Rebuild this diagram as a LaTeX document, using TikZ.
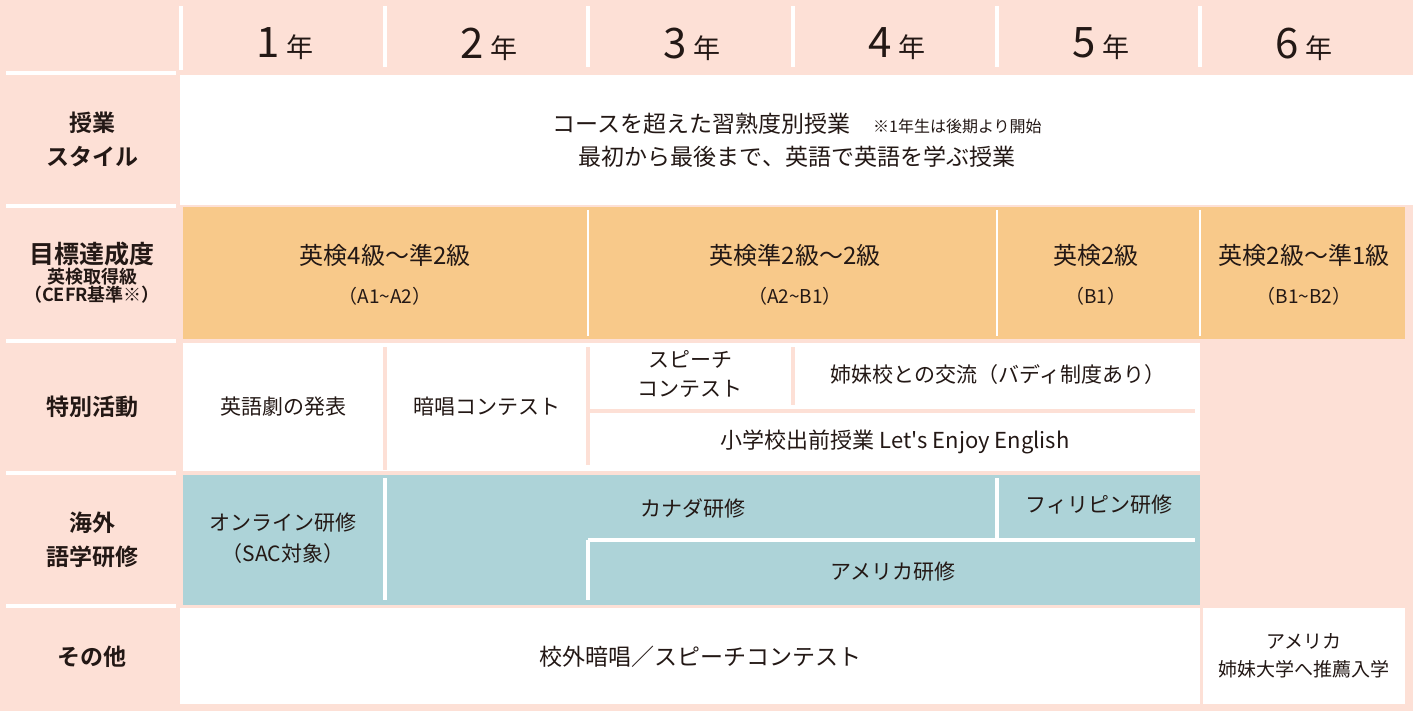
\documentclass[tikz,border=0pt]{standalone}
\usepackage{fontspec}
\setmainfont{Noto Sans CJK JP}
\newfontfamily\jpb{Noto Sans CJK JP Bold}
\definecolor{pk}{HTML}{FDE0D6}
\definecolor{org}{HTML}{F8C98A}
\definecolor{tl}{HTML}{ADD3D8}
\definecolor{ink}{HTML}{231815}
\newcommand{\tld}{\textasciitilde}
\begin{document}
\begin{tikzpicture}[x=1pt,y=-1pt,
  txt/.style={text=ink,font=\fontsize{22}{28}\selectfont,align=center,inner sep=0pt},
  lab/.style={text=ink,font=\jpb\fontsize{23}{34}\selectfont,align=center,inner sep=0pt},
  yr/.style={text=ink,inner sep=0pt},
  wl/.style={white,line width=4pt},
  pl/.style={pk,line width=4pt}]
\fill[pk] (0,0) rectangle (1413,711);
% row backgrounds
\fill[white] (180,75) rectangle (1413,205);
\fill[org] (183,207) rectangle (1405,339);
\fill[white] (183,343) rectangle (1200,471);
\fill[tl] (183,475) rectangle (1200,605);
\fill[white] (180,608) rectangle (1200,704);
\fill[white] (1203,608) rectangle (1405,704);
% left column separators
\foreach \y in {73,206,341,473,606} \draw[wl] (6,\y) -- (176,\y);
\draw[wl] (181,6) -- (181,70);
\foreach \x in {385,588,793,997,1200} \draw[wl] (\x,6) -- (\x,67);
% orange separators
\foreach \x in {588,997,1200} \draw[white,line width=2pt] (\x,210) -- (\x,336);
% activity separators
\draw[pl] (385,347) -- (385,470);
\draw[pl] (588,347) -- (588,465);
\draw[pl] (793,347) -- (793,405);
\draw[pl] (588,411) -- (1195,411);
% teal separators
\draw[wl] (385,478) -- (385,600);
\draw[wl] (997,478) -- (997,538);
\draw[wl] (588,540) -- (1195,540);
\draw[wl] (588,540) -- (588,600);
% headers
\foreach \i/\x in {1/285,2/489,3/692,4/897,5/1101,6/1304}
  \node[yr] (y\i) at (\x,44) {\fontsize{42}{42}\selectfont\i\,\fontsize{27}{27}\selectfont 年};
% labels
\node[lab] (l1) at (92,139) {授業\\スタイル};
\node[lab,font=\jpb] (l2) at (92,273) {\fontsize{25}{25}\selectfont 目標達成度\\[1pt]\fontsize{18}{25}\selectfont 英検取得級\\\fontsize{18}{25}\selectfont（CEFR基準※）};
\node[lab] (l3) at (92,407) {特別活動};
\node[lab] (l4) at (92,540) {海外\\語学研修};
\node[lab] (l5) at (92,657) {その他};
% row1
\node[txt,font=\fontsize{23}{33}\selectfont] (r1) at (797,140) {コースを超えた習熟度別授業\quad{\fontsize{16}{16}\selectfont ※1年生は後期より開始}\\最初から最後まで、英語で英語を学ぶ授業};
% row2
\node[txt,font=\fontsize{24}{39}\selectfont] (g1) at (385,275) {英検4級～準2級\\{\fontsize{19}{19}\selectfont （A1\tld A2）}};
\node[txt,font=\fontsize{24}{39}\selectfont] (g2) at (795,275) {英検準2級～2級\\{\fontsize{19}{19}\selectfont （A2\tld B1）}};
\node[txt,font=\fontsize{24}{39}\selectfont] (g3) at (1096,275) {英検2級\\{\fontsize{19}{19}\selectfont （B1）}};
\node[txt,font=\fontsize{24}{39}\selectfont] (g4) at (1304,275) {英検2級～準1級\\{\fontsize{19}{19}\selectfont （B1\tld B2）}};
% row3
\node[txt,font=\fontsize{21}{28}\selectfont] (a1) at (283,407) {英語劇の発表};
\node[txt,font=\fontsize{21}{28}\selectfont] (a2) at (487,407) {暗唱コンテスト};
\node[txt,font=\fontsize{21}{29}\selectfont] (a3) at (690,374) {スピーチ\\コンテスト};
\node[txt,font=\fontsize{21}{28}\selectfont] (a4) at (998,375) {姉妹校との交流（バディ制度あり）};
\node[txt] (a5) at (895,442) {小学校出前授業 Let\textquotesingle s Enjoy English};
% row4
\node[txt,font=\fontsize{21}{31}\selectfont] (b1) at (283,538) {オンライン研修\\（SAC対象）};
\node[txt,font=\fontsize{21}{28}\selectfont] (b2) at (693,508) {カナダ研修};
\node[txt,font=\fontsize{21}{28}\selectfont] (b3) at (1099,505) {フィリピン研修};
\node[txt,font=\fontsize{21}{28}\selectfont] (b4) at (893,572) {アメリカ研修};
% row5
\node[txt,font=\fontsize{23}{28}\selectfont] (c1) at (700,657) {校外暗唱／スピーチコンテスト};
\node[txt,font=\fontsize{19}{28}\selectfont] (c2) at (1304,656) {アメリカ\\姉妹大学へ推薦入学};
\end{tikzpicture}
\end{document}
